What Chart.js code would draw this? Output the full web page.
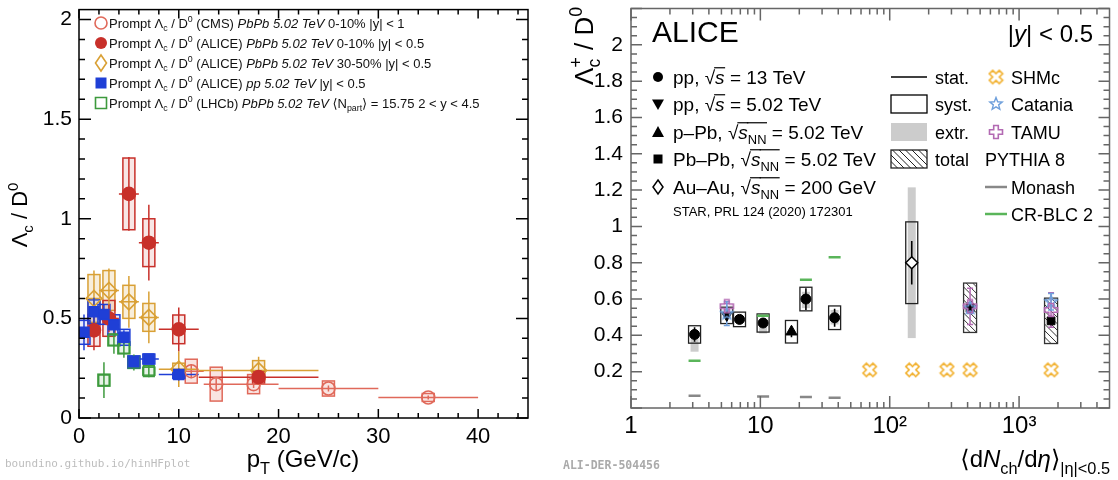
<!DOCTYPE html>
<html>
<head>
<meta charset="utf-8">
<script src="https://cdn.jsdelivr.net/npm/chart.js@4.4.0/dist/chart.umd.min.js"></script>
<style>
  html, body { margin: 0; padding: 0; background: #fff; }
  #wrap { position: relative; width: 1118px; height: 480px; overflow: hidden; }
  #left { position: absolute; left: 0; top: 0; }
  #right { position: absolute; left: 548px; top: 0; }
</style>
</head>
<body>
<div id="wrap">
  <canvas id="left" width="548" height="480"></canvas>
  <canvas id="right" width="570" height="480"></canvas>
</div>
<script>
// ---------- LEFT: Lambda_c / D0 vs pT ----------
// CMS PbPb 0-10%
const cmsPt   = [11.25, 13.75, 17.5, 25, 35];
const cmsPtLo = [10, 12.5, 15, 20, 30];
const cmsPtHi = [12.5, 15, 20, 30, 40];
const cmsVal  = [0.235, 0.17, 0.17, 0.148, 0.103];
const cmsStat = [0.035, 0.03, 0.02, 0.015, 0.01];
const cmsSyst = [0.06, 0.085, 0.048, 0.038, 0.02];

// ALICE PbPb 0-10%
const a010Pt   = [1.5, 3, 5, 7, 10, 18];
const a010PtLo = [1, 2, 4, 6, 8, 12];
const a010PtHi = [2, 4, 6, 8, 12, 24];
const a010Val  = [0.44, 0.50, 1.125, 0.88, 0.445, 0.205];
const a010Stat = [0.1, 0.07, 0.185, 0.19, 0.11, 0.03];
const a010Syst = [0.08, 0.09, 0.18, 0.12, 0.072, 0.03];

// ALICE PbPb 30-50%
const a3050Pt   = [1.5, 3, 5, 7, 10, 18];
const a3050PtLo = [1, 2, 4, 6, 8, 12];
const a3050PtHi = [2, 4, 6, 8, 12, 24];
const a3050Val  = [0.60, 0.64, 0.583, 0.505, 0.245, 0.238];
const a3050Stat = [0.14, 0.11, 0.13, 0.13, 0.09, 0.07];
const a3050Syst = [0.12, 0.1, 0.083, 0.07, 0.03, 0.05];

// ALICE pp 5.02 TeV
const ppPt   = [0.5, 1.5, 2.5, 3.5, 4.5, 5.5, 7, 10];
const ppPtLo = [0, 1, 2, 3, 4, 5, 6, 8];
const ppPtHi = [1, 2, 3, 4, 5, 6, 8, 12];
const ppVal  = [0.43, 0.533, 0.52, 0.468, 0.405, 0.282, 0.296, 0.218];
const ppStat = [0.09, 0.07, 0.05, 0.04, 0.035, 0.03, 0.02, 0.03];
const ppSyst = [0.06, 0.06, 0.05, 0.05, 0.04, 0.03, 0.025, 0.02];

// LHCb PbPb peripheral
const lhcbPt   = [2.5, 3.5, 4.5, 5.5, 7];
const lhcbVal  = [0.19, 0.392, 0.352, 0.279, 0.235];
const lhcbStat = [0.09, 0.07, 0.05, 0.04, 0.03];
const lhcbSyst = [0.03, 0.03, 0.03, 0.03, 0.02];

// ---------- RIGHT: Lambda_c+ / D0 vs <dNch/deta> ----------
const pp13Mult   = [3.1, 6.9, 10.5, 22.5, 37.5];
const pp13Val    = [0.405, 0.488, 0.468, 0.60, 0.497];
const pp13Stat   = [0.04, 0.015, 0.025, 0.06, 0.05];
const pp13Syst   = [0.048, 0.04, 0.05, 0.065, 0.065];
const pp13ExtrLo = [0.31, 0.47, 0.41, 0.55, 0.46];
const pp13ExtrHi = [0.42, 0.50, 0.47, 0.64, 0.54];

const pp5Mult = [5.5];
const pp5Val  = [0.51];
const pp5Stat = [0.03];
const pp5Syst = [0.045];

const pPbMult = [17.4];
const pPbVal  = [0.42];
const pPbStat = [0.03];
const pPbSyst = [0.062];

const pbpbMult  = [418, 1767];
const pbpbVal   = [0.55, 0.48];
const pbpbStat  = [0.03, 0.03];
const pbpbTotLo = [0.416, 0.355];
const pbpbTotHi = [0.688, 0.605];

const auauMult = [148];
const auauVal  = [0.80];
const auauStat = [0.12];
const auauSyst = [0.225];
const auauExtr = [0.415];

const shmcMult = [70, 150, 277, 418, 1767];
const shmcVal  = [0.21, 0.21, 0.21, 0.21, 0.21];
const cataniaMult = [5.5, 418, 1767];
const cataniaVal  = [0.52, 0.55, 0.585];
const cataniaErr  = [0.065, 0.03, 0.045];
const tamuMult = [5.5, 418, 1767];
const tamuVal  = [0.56, 0.56, 0.54];
const tamuErr  = [0.015, 0.1, 0.095];
const monashMult = [3.1, 10.5, 22.5, 37.5];
const monashVal  = [0.067, 0.063, 0.06, 0.057];
const crMult = [3.1, 10.5, 22.5, 37.5];
const crVal  = [0.26, 0.508, 0.706, 0.83];

const FONT = '"Liberation Sans", "DejaVu Sans", Arial, sans-serif';
const MONO = '"DejaVu Sans Mono", monospace';

// rich text: segments [text, flags] ; b=sub p=sup i=italic o=overline n=no advance
function rich(ctx, x, y, segs, size, align) {
  const parts = segs.map(s => {
    const [t, f = ''] = Array.isArray(s) ? s : [s, ''];
    const small = f.includes('b') || f.includes('p');
    const sz = small ? size * 0.68 : size;
    const font = (f.includes('i') ? 'italic ' : '') + sz + 'px ' + FONT;
    ctx.font = font;
    return { t, f, sz, font, w: ctx.measureText(t).width };
  });
  const total = parts.reduce((a, p) => a + (p.f.includes('n') ? 0 : p.w), 0);
  let cx = align === 'center' ? x - total / 2 : align === 'right' ? x - total : x;
  ctx.textAlign = 'left';
  ctx.textBaseline = 'alphabetic';
  parts.forEach(p => {
    let dy = 0;
    if (p.f.includes('b')) dy = size * 0.28;
    if (p.f.includes('p')) dy = -size * 0.42;
    ctx.font = p.font;
    ctx.fillText(p.t, cx, y + dy);
    if (p.f.includes('o')) ctx.fillRect(cx - 1, y - size * 0.86, p.w + 1.5, 1.2);
    if (!p.f.includes('n')) cx += p.w;
  });
  return total;
}

// marker images
function mk(size, draw) {
  const c = document.createElement('canvas');
  c.width = c.height = size;
  const g = c.getContext('2d');
  g.translate(size / 2, size / 2);
  draw(g);
  return c;
}
function crossPath(g, r, w) {
  g.beginPath();
  g.moveTo(-w, -r); g.lineTo(w, -r); g.lineTo(w, -w); g.lineTo(r, -w); g.lineTo(r, w); g.lineTo(w, w);
  g.lineTo(w, r); g.lineTo(-w, r); g.lineTo(-w, w); g.lineTo(-r, w); g.lineTo(-r, -w); g.lineTo(-w, -w);
  g.closePath();
}
function starPath(g, R, r) {
  g.beginPath();
  for (let k = 0; k < 10; k++) {
    const a = -Math.PI / 2 + k * Math.PI / 5, rr = k % 2 ? r : R;
    g.lineTo(rr * Math.cos(a), rr * Math.sin(a));
  }
  g.closePath();
}
const C_SHMC = '#f2b232', C_CAT = '#6fa0dc', C_TAMU = '#b36ab3', C_MON = '#888888', C_CR = '#5ab55a';
const shmcMark = mk(17, g => { g.rotate(Math.PI / 4); crossPath(g, 7, 2.4); g.fillStyle = '#fff'; g.fill(); g.strokeStyle = C_SHMC; g.lineWidth = 1.7; g.stroke(); });
const tamuMark = mk(16, g => { crossPath(g, 6.5, 2.3); g.strokeStyle = C_TAMU; g.lineWidth = 1.6; g.stroke(); });
const starMark = mk(16, g => { starPath(g, 6.5, 2.8); g.strokeStyle = C_CAT; g.lineWidth = 1.4; g.stroke(); });

// frame + inward ticks (ROOT style)
function drawFrame(chart, cfg) {
  const { ctx, chartArea: a, scales: { x, y } } = chart;
  ctx.save();
  ctx.strokeStyle = cfg.color;
  ctx.lineWidth = cfg.lw;
  ctx.beginPath();
  const seg = (x1, y1, x2, y2) => { ctx.moveTo(x1, y1); ctx.lineTo(x2, y2); };
  const xt = (list, len) => list.forEach(v => { const p = x.getPixelForValue(v); seg(p, a.bottom, p, a.bottom - len); seg(p, a.top, p, a.top + len); });
  const yt = (list, len) => list.forEach(v => { const p = y.getPixelForValue(v); seg(a.left, p, a.left + len, p); seg(a.right, p, a.right - len, p); });
  xt(cfg.xMajor, cfg.xMaj); xt(cfg.xMinor, cfg.xMin);
  yt(cfg.yMajor, cfg.yMaj); yt(cfg.yMinor, cfg.yMin);
  ctx.stroke();
  ctx.strokeRect(a.left, a.top, a.right - a.left, a.bottom - a.top);
  ctx.restore();
}

// ---------- LEFT CHART ----------
const leftSeries = [
  { x: ppPt, lo: ppPtLo, hi: ppPtHi, y: ppVal, stat: ppStat, syst: ppSyst, color: '#1f3fd6', fill: 'rgba(31,63,214,0.10)', style: 'rect', r: 7, open: false },
  { x: lhcbPt, lo: lhcbPt, hi: lhcbPt, y: lhcbVal, stat: lhcbStat, syst: lhcbSyst, color: '#3d9a3d', fill: 'rgba(61,154,61,0.12)', style: 'rect', r: 7.5, open: true },
  { x: a010Pt, lo: a010PtLo, hi: a010PtHi, y: a010Val, stat: a010Stat, syst: a010Syst, color: '#c8302a', fill: 'rgba(200,48,42,0.12)', style: 'circle', r: 6.5, open: false },
  { x: a3050Pt, lo: a3050PtLo, hi: a3050PtHi, y: a3050Val, stat: a3050Stat, syst: a3050Syst, color: '#d9a035', fill: 'rgba(217,160,53,0.18)', style: 'rectRot', r: 8, open: true },
  { x: cmsPt, lo: cmsPtLo, hi: cmsPtHi, y: cmsVal, stat: cmsStat, syst: cmsSyst, color: '#e0695a', fill: 'rgba(224,105,90,0.18)', style: 'circle', r: 6.5, open: true }
];

const leftTicks = {
  color: '#000', lw: 1.5,
  xMajor: [0, 10, 20, 30, 40], xMinor: [], xMaj: 9, xMin: 5,
  yMajor: [0, 0.5, 1, 1.5, 2], yMinor: [], yMaj: 12, yMin: 6
};
for (let v = 2; v < 45; v += 2) if (v % 10) leftTicks.xMinor.push(v);
for (let k = 1; k <= 20; k++) if (k % 5) leftTicks.yMinor.push(k / 10);

const leftDeco = {
  id: 'leftDeco',
  beforeDatasetsDraw(chart) {
    const { ctx, chartArea: a, scales: { x, y } } = chart;
    ctx.save();
    ctx.beginPath(); ctx.rect(a.left, a.top, a.right - a.left, a.bottom - a.top); ctx.clip();
    const order = leftSeries.slice().reverse();
    order.forEach(s => s.x.forEach((v, i) => {
      const px = x.getPixelForValue(v);
      const t = y.getPixelForValue(s.y[i] + s.syst[i]), b = y.getPixelForValue(s.y[i] - s.syst[i]);
      ctx.fillStyle = s.fill; ctx.fillRect(px - 6, t, 12, b - t);
      ctx.strokeStyle = s.color; ctx.lineWidth = 1.5; ctx.strokeRect(px - 6, t, 12, b - t);
    }));
    order.forEach(s => {
      ctx.strokeStyle = s.color; ctx.lineWidth = 1.5;
      ctx.beginPath();
      s.x.forEach((v, i) => {
        const px = x.getPixelForValue(v), py = y.getPixelForValue(s.y[i]);
        ctx.moveTo(px, y.getPixelForValue(s.y[i] + s.stat[i])); ctx.lineTo(px, y.getPixelForValue(s.y[i] - s.stat[i]));
        if (s.hi[i] > s.lo[i]) { ctx.moveTo(x.getPixelForValue(s.lo[i]), py); ctx.lineTo(x.getPixelForValue(s.hi[i]), py); }
      });
      ctx.stroke();
    });
    ctx.restore();
  },
  afterDraw(chart) {
    const ctx = chart.ctx;
    drawFrame(chart, leftTicks);
    ctx.save();
    // legend
    const rows = [23, 43, 63, 83, 103];
    const pre = ['Prompt Λ', ['c', 'b'], ' / D', ['0', 'p']];
    const items = [
      { s: leftSeries[4], t: [' (CMS) ', ['PbPb 5.02 TeV', 'i'], ' 0-10% |y| < 1'] },
      { s: leftSeries[2], t: [' (ALICE) ', ['PbPb 5.02 TeV', 'i'], ' 0-10% |y| < 0.5'] },
      { s: leftSeries[3], t: [' (ALICE) ', ['PbPb 5.02 TeV', 'i'], ' 30-50% |y| < 0.5'] },
      { s: leftSeries[0], t: [' (ALICE) ', ['pp 5.02 TeV', 'i'], ' |y| < 0.5'] },
      { s: leftSeries[1], t: [' (LHCb) ', ['PbPb 5.02 TeV', 'i'], ' ⟨N', ['part', 'b'], '⟩ = 15.75 2 < y < 4.5'] }
    ];
    items.forEach((it, k) => {
      const cy = rows[k], cx = 101, s = it.s;
      ctx.strokeStyle = s.color; ctx.fillStyle = s.color; ctx.lineWidth = 1.6;
      ctx.beginPath();
      if (s.style === 'circle') ctx.arc(cx, cy, 6, 0, Math.PI * 2);
      else if (s.style === 'rect') ctx.rect(cx - 5.5, cy - 5.5, 11, 11);
      else { ctx.moveTo(cx, cy - 8); ctx.lineTo(cx + 5.5, cy); ctx.lineTo(cx, cy + 8); ctx.lineTo(cx - 5.5, cy); ctx.closePath(); }
      if (s.open) { ctx.stroke(); } else { ctx.fill(); }
      ctx.fillStyle = '#111';
      rich(ctx, 109, cy + 4.5, pre.concat(it.t), 13, 'left');
    });
    // axis titles
    ctx.fillStyle = '#000';
    rich(ctx, 303, 467, ['p', ['T', 'b'], ' (GeV/c)'], 24, 'center');
    ctx.save();
    ctx.translate(27, 215); ctx.rotate(-Math.PI / 2);
    rich(ctx, 0, 0, ['Λ', ['c', 'b'], ' / D', ['0', 'p']], 22, 'center');
    ctx.restore();
    // watermark
    ctx.font = '11px ' + MONO; ctx.fillStyle = '#bdbdbd'; ctx.textAlign = 'left';
    ctx.fillText('boundino.github.io/hinHFplot', 5, 467);
    ctx.restore();
  }
};

new Chart(document.getElementById('left'), {
  type: 'scatter',
  data: {
    datasets: leftSeries.map(s => ({
      data: s.x.map((v, i) => ({ x: v, y: s.y[i] })),
      pointStyle: s.style,
      pointRadius: s.r,
      pointBackgroundColor: s.open ? 'rgba(255,255,255,0)' : s.color,
      pointBorderColor: s.color,
      pointBorderWidth: 1.6
    }))
  },
  options: {
    responsive: false, animation: false, events: [],
    layout: { padding: { top: 0, right: 20, bottom: 0, left: 0 } },
    plugins: { legend: { display: false }, tooltip: { enabled: false } },
    scales: {
      x: {
        type: 'linear', min: 0, max: 45,
        grid: { display: false, drawTicks: false }, border: { display: false },
        ticks: { stepSize: 10, includeBounds: false, padding: 6, color: '#000', maxRotation: 0, font: { family: FONT, size: 22 } },
        afterFit: s => { s.height = 62; s.paddingLeft = 0; s.paddingRight = 0; }
      },
      y: {
        type: 'linear', min: 0, max: 2.05,
        grid: { display: false, drawTicks: false }, border: { display: false },
        ticks: { stepSize: 0.5, includeBounds: false, padding: 7, color: '#000', font: { family: FONT, size: 21 },
                 callback: v => String(+v.toFixed(2)) },
        afterFit: s => { s.width = 79; s.paddingTop = 0; s.paddingBottom = 0; }
      }
    }
  },
  plugins: [leftDeco]
});

// ---------- RIGHT CHART ----------
const OX = 548;
const rightTicks = {
  color: '#666', lw: 1.5,
  xMajor: [1, 10, 100, 1000], xMinor: [], xMaj: 12, xMin: 6,
  yMajor: [], yMinor: [], yMaj: 11, yMin: 6
};
[1, 10, 100, 1000].forEach(d => { for (let k = 2; k <= 9; k++) if (d * k < 5000) rightTicks.xMinor.push(d * k); });
for (let k = 0; k <= 44; k++) (k % 4 ? rightTicks.yMinor : rightTicks.yMajor).push(k * 0.05);

function hatchRect(ctx, l, t, w, h, color) {
  ctx.save();
  ctx.beginPath(); ctx.rect(l, t, w, h); ctx.clip();
  ctx.strokeStyle = color; ctx.lineWidth = 1;
  ctx.beginPath();
  for (let k = -h; k < w + h; k += 6.5) { ctx.moveTo(l + k, t); ctx.lineTo(l + k + h, t + h); }
  ctx.stroke();
  ctx.restore();
  ctx.strokeStyle = color; ctx.lineWidth = 1.3;
  ctx.strokeRect(l, t, w, h);
}

const rightDeco = {
  id: 'rightDeco',
  beforeDatasetsDraw(chart) {
    const { ctx, chartArea: a, scales: { x, y } } = chart;
    const X = v => x.getPixelForValue(v), Y = v => y.getPixelForValue(v);
    ctx.save();
    ctx.beginPath(); ctx.rect(a.left, a.top, a.right - a.left, a.bottom - a.top); ctx.clip();
    // extrapolation bands (grey)
    ctx.fillStyle = '#cccccc';
    pp13Mult.forEach((m, i) => ctx.fillRect(X(m) - 4, Y(pp13ExtrHi[i]), 8, Y(pp13ExtrLo[i]) - Y(pp13ExtrHi[i])));
    auauMult.forEach((m, i) => ctx.fillRect(X(m) - 4, Y(auauVal[i] + auauExtr[i]), 8, Y(auauVal[i] - auauExtr[i]) - Y(auauVal[i] + auauExtr[i])));
    // syst boxes
    ctx.strokeStyle = '#222'; ctx.lineWidth = 1.3;
    const box = (m, v, e) => ctx.strokeRect(X(m) - 6, Y(v + e), 12, Y(v - e) - Y(v + e));
    pp13Mult.forEach((m, i) => box(m, pp13Val[i], pp13Syst[i]));
    pp5Mult.forEach((m, i) => box(m, pp5Val[i], pp5Syst[i]));
    pPbMult.forEach((m, i) => box(m, pPbVal[i], pPbSyst[i]));
    auauMult.forEach((m, i) => box(m, auauVal[i], auauSyst[i]));
    pbpbMult.forEach((m, i) => hatchRect(ctx, X(m) - 6.5, Y(pbpbTotHi[i]), 13, Y(pbpbTotLo[i]) - Y(pbpbTotHi[i]), '#333'));
    // stat bars
    ctx.strokeStyle = '#000'; ctx.lineWidth = 1.6;
    ctx.beginPath();
    const bar = (m, v, e) => { ctx.moveTo(X(m), Y(v + e)); ctx.lineTo(X(m), Y(v - e)); };
    pp13Mult.forEach((m, i) => bar(m, pp13Val[i], pp13Stat[i]));
    pp5Mult.forEach((m, i) => bar(m, pp5Val[i], pp5Stat[i]));
    pPbMult.forEach((m, i) => bar(m, pPbVal[i], pPbStat[i]));
    auauMult.forEach((m, i) => bar(m, auauVal[i], auauStat[i]));
    pbpbMult.forEach((m, i) => bar(m, pbpbVal[i], pbpbStat[i]));
    ctx.stroke();
    // model error bars with caps
    const capBar = (list, vals, errs, color) => {
      ctx.strokeStyle = color; ctx.lineWidth = 1.5; ctx.beginPath();
      list.forEach((m, i) => {
        const px = X(m), t = Y(vals[i] + errs[i]), b = Y(vals[i] - errs[i]);
        ctx.moveTo(px, t); ctx.lineTo(px, b);
        ctx.moveTo(px - 3, t); ctx.lineTo(px + 3, t);
        ctx.moveTo(px - 3, b); ctx.lineTo(px + 3, b);
      });
      ctx.stroke();
    };
    capBar(tamuMult, tamuVal, tamuErr, C_TAMU);
    capBar(cataniaMult, cataniaVal, cataniaErr, C_CAT);
    ctx.restore();
  },
  afterDraw(chart) {
    const ctx = chart.ctx;
    drawFrame(chart, rightTicks);
    ctx.save();
    ctx.fillStyle = '#000';
    ctx.font = '30px ' + FONT; ctx.textAlign = 'left'; ctx.textBaseline = 'alphabetic';
    ctx.fillText('ALICE', 652 - OX, 42);
    rich(ctx, 1093 - OX, 42, ['|', ['y', 'i'], '| < 0.5'], 24, 'right');

    const rows = [77, 104, 132, 159, 187];
    const sz = 18;
    // column 1: data sets
    const c1 = 658 - OX, t1 = 673 - OX;
    const col1 = [
      ['pp, √', ['s', 'io'], ' = 13 TeV'],
      ['pp, √', ['s', 'io'], ' = 5.02 TeV'],
      ['p–Pb, √', ['s', 'io'], ['NN', 'bo'], ' = 5.02 TeV'],
      ['Pb–Pb, √', ['s', 'io'], ['NN', 'bo'], ' = 5.02 TeV'],
      ['Au–Au, √', ['s', 'io'], ['NN', 'bo'], ' = 200 GeV']
    ];
    col1.forEach((segs, k) => {
      const cy = rows[k];
      ctx.fillStyle = '#000'; ctx.strokeStyle = '#000'; ctx.lineWidth = 1.5;
      ctx.beginPath();
      if (k === 0) { ctx.arc(c1, cy, 5, 0, Math.PI * 2); ctx.fill(); }
      else if (k === 1) { ctx.moveTo(c1 - 6, cy - 4.5); ctx.lineTo(c1 + 6, cy - 4.5); ctx.lineTo(c1, cy + 6); ctx.closePath(); ctx.fill(); }
      else if (k === 2) { ctx.moveTo(c1 - 6, cy + 5); ctx.lineTo(c1 + 6, cy + 5); ctx.lineTo(c1, cy - 6); ctx.closePath(); ctx.fill(); }
      else if (k === 3) { ctx.fillRect(c1 - 4.5, cy - 4.5, 9, 9); }
      else { ctx.moveTo(c1, cy - 7); ctx.lineTo(c1 + 5, cy); ctx.lineTo(c1, cy + 7); ctx.lineTo(c1 - 5, cy); ctx.closePath(); ctx.stroke(); }
      rich(ctx, t1, cy + 6.5, segs, 19, 'left');
    });
    ctx.font = '13px ' + FONT;
    ctx.fillText('STAR, PRL 124 (2020) 172301', t1, 216);

    // column 2: uncertainty styles
    const l2 = 891 - OX, w2 = 36, t2 = 935 - OX;
    ctx.strokeStyle = '#000'; ctx.lineWidth = 1.5;
    ctx.beginPath(); ctx.moveTo(l2, rows[0]); ctx.lineTo(l2 + w2, rows[0]); ctx.stroke();
    ctx.lineWidth = 1.3; ctx.strokeRect(l2, rows[1] - 9, w2, 18);
    ctx.fillStyle = '#cccccc'; ctx.fillRect(l2, rows[2] - 9, w2, 18);
    hatchRect(ctx, l2, rows[3] - 9, w2, 18, '#222');
    ctx.fillStyle = '#000';
    ['stat.', 'syst.', 'extr.', 'total'].forEach((t, k) => rich(ctx, t2, rows[k] + 6.5, [t], sz, 'left'));

    // column 3: models
    const c3 = 996 - OX, t3 = 1011 - OX;
    [shmcMark, starMark, tamuMark].forEach((img, k) => ctx.drawImage(img, c3 - img.width / 2, rows[k] - img.height / 2));
    ['SHMc', 'Catania', 'TAMU'].forEach((t, k) => rich(ctx, t3, rows[k] + 6.5, [t], sz, 'left'));
    rich(ctx, 985 - OX, rows[3] + 6.5, ['PYTHIA 8'], sz, 'left');
    ctx.lineWidth = 2.5;
    ctx.strokeStyle = C_MON; ctx.beginPath(); ctx.moveTo(985 - OX, rows[4]); ctx.lineTo(1007 - OX, rows[4]); ctx.stroke();
    ctx.strokeStyle = C_CR; ctx.beginPath(); ctx.moveTo(985 - OX, 214); ctx.lineTo(1007 - OX, 214); ctx.stroke();
    rich(ctx, t3, rows[4] + 6.5, ['Monash'], sz, 'left');
    rich(ctx, t3, 214 + 6.5, ['CR-BLC 2'], sz, 'left');

    // axis titles
    rich(ctx, 1110 - OX, 467, ['⟨d', ['N', 'i'], ['ch', 'b'], '/d', ['η', 'i'], '⟩', ['|η|<0.5', 'b']], 24, 'right');
    ctx.save();
    ctx.translate(593 - OX, 7); ctx.rotate(-Math.PI / 2);
    rich(ctx, 0, 0, ['Λ', ['c', 'bn'], ['+', 'p'], ' / D', ['0', 'p']], 26, 'right');
    ctx.restore();
    // watermark
    ctx.font = 'bold 11.5px ' + MONO; ctx.fillStyle = '#aaaaaa'; ctx.textAlign = 'left';
    ctx.fillText('ALI-DER-504456', 563 - OX, 469);
    ctx.restore();
  }
};

const pts = (xs, ys) => xs.map((v, i) => ({ x: v, y: ys[i] }));
new Chart(document.getElementById('right'), {
  type: 'scatter',
  data: {
    datasets: [
      { data: pts(tamuMult, tamuVal), pointStyle: tamuMark },
      { data: pts(cataniaMult, cataniaVal), pointStyle: starMark },
      { data: pts(pp13Mult, pp13Val), pointStyle: 'circle', pointRadius: 5, pointBackgroundColor: '#000', pointBorderColor: '#000' },
      { data: pts(pp5Mult, pp5Val), pointStyle: 'triangle', pointRotation: 180, pointRadius: 6, pointBackgroundColor: '#000', pointBorderColor: '#000' },
      { data: pts(pPbMult, pPbVal), pointStyle: 'triangle', pointRadius: 6.5, pointBackgroundColor: '#000', pointBorderColor: '#000' },
      { data: pts(pbpbMult, pbpbVal), pointStyle: 'rect', pointRadius: 5.5, pointBackgroundColor: '#000', pointBorderColor: '#000' },
      { data: pts(auauMult, auauVal), pointStyle: 'rectRot', pointRadius: 6, pointBackgroundColor: '#fff', pointBorderColor: '#000', pointBorderWidth: 1.5 },
      { data: pts(shmcMult, shmcVal), pointStyle: shmcMark },
      { data: pts(monashMult, monashVal), pointStyle: 'line', pointRadius: 6, pointBorderColor: C_MON, pointBorderWidth: 2.5 },
      { data: pts(crMult, crVal), pointStyle: 'line', pointRadius: 6, pointBorderColor: C_CR, pointBorderWidth: 2.5 }
    ]
  },
  options: {
    responsive: false, animation: false, events: [],
    layout: { padding: { top: 0, right: 6, bottom: 0, left: 0 } },
    plugins: { legend: { display: false }, tooltip: { enabled: false } },
    scales: {
      x: {
        type: 'logarithmic', min: 1, max: 5000,
        grid: { display: false, drawTicks: false }, border: { display: false },
        afterBuildTicks: s => { s.ticks = [1, 10, 100, 1000].map(v => ({ value: v })); },
        ticks: { autoSkip: false, maxRotation: 0, padding: 4, color: '#000', font: { family: FONT, size: 24 },
                 callback: v => ({ 1: '1', 10: '10', 100: '10²', 1000: '10³' })[v] || '' },
        afterFit: s => { s.height = 72; s.paddingLeft = 0; s.paddingRight = 0; }
      },
      y: {
        type: 'linear', min: 0, max: 2.2,
        grid: { display: false, drawTicks: false }, border: { display: false },
        ticks: { stepSize: 0.2, includeBounds: false, padding: 8, color: '#000', font: { family: FONT, size: 21 },
                 callback: v => (v < 0.01 || v > 2.05) ? '' : String(+v.toFixed(1)) },
        afterFit: s => { s.width = 83; s.paddingTop = 0; s.paddingBottom = 0; }
      }
    }
  },
  plugins: [rightDeco]
});
</script>
</body>
</html>
